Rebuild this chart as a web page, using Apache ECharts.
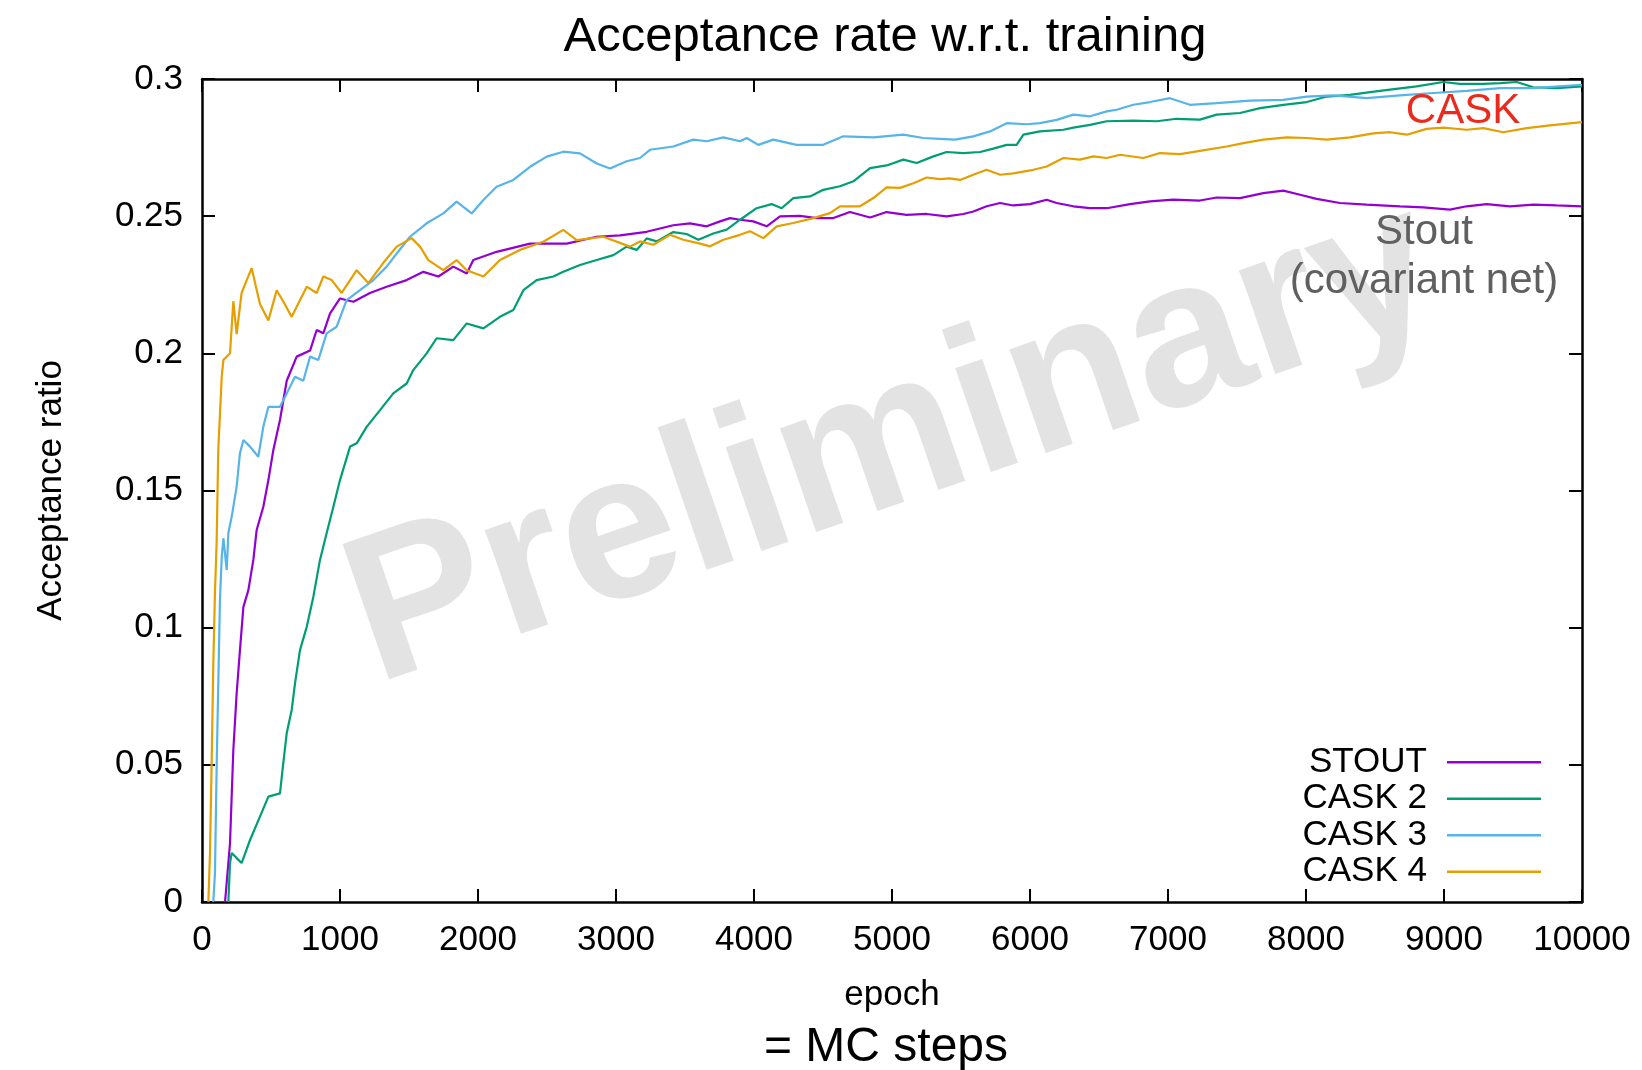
<!DOCTYPE html>
<html>
<head>
<meta charset="utf-8">
<script src="https://cdn.jsdelivr.net/npm/echarts@6/dist/echarts.min.js"></script>
<style>
  html, body { margin: 0; padding: 0; background: #fff; }
  #chart { width: 1642px; height: 1070px; }
</style>
</head>
<body>
<div id="chart"></div>
<script>
// [epoch, acceptance ratio]
const stoutData = [
  [167,0],[203,0.0215],[227,0.0554],[251,0.076],[275,0.0918],[300,0.1076],[336,0.1137],[372,0.1247],
  [396,0.1356],[444,0.144],[481,0.1538],[517,0.1648],[565,0.1757],[614,0.190],[686,0.1988],[783,0.201],
  [831,0.2085],[879,0.2073],[928,0.2146],[1000,0.220],[1097,0.2188],[1217,0.222],[1338,0.2243],[1483,0.2267],
  [1604,0.2297],[1713,0.228],[1821,0.2316],[1918,0.2291],[1966,0.234],[2135,0.237],[2377,0.240],[2643,0.240],
  [2860,0.2425],[3029,0.243],[3222,0.2443],[3415,0.2467],[3536,0.2474],[3657,0.2463],[3754,0.2481],[3826,0.2493],
  [3899,0.2487],[3995,0.2481],[4092,0.2463],[4188,0.2499],[4333,0.2501],[4454,0.2493],[4575,0.2493],[4695,0.2515],
  [4841,0.2495],[4961,0.2515],[5106,0.2505],[5251,0.2508],[5396,0.2499],[5517,0.2508],[5589,0.2517],[5686,0.2536],
  [5783,0.2548],[5879,0.2539],[6000,0.2544],[6121,0.256],[6193,0.2548],[6314,0.2536],[6435,0.2529],[6556,0.2529],
  [6725,0.2544],[6870,0.2554],[7038,0.256],[7231,0.2557],[7353,0.2568],[7522,0.2566],[7691,0.2584],[7836,0.2593],
  [7957,0.2578],[8077,0.2563],[8246,0.2548],[8440,0.2542],[8681,0.2536],[8850,0.2532],[9043,0.2524],[9164,0.2536],
  [9309,0.2544],[9478,0.2536],[9647,0.2542],[9816,0.2539],[10000,0.2536]
];
const cask2Data = [
  [191,0],[203,0.0142],[215,0.0179],[251,0.016],[287,0.0142],[348,0.0226],[420,0.0311],[481,0.0384],
  [565,0.0396],[589,0.0506],[614,0.0616],[650,0.070],[674,0.0797],[710,0.0918],[759,0.1003],[807,0.1113],
  [855,0.1247],[903,0.1344],[952,0.1441],[1000,0.1538],[1073,0.166],[1121,0.1672],[1193,0.1732],[1290,0.1793],
  [1386,0.1854],[1483,0.189],[1531,0.1939],[1628,0.200],[1700,0.2055],[1821,0.2048],[1918,0.2109],[2039,0.2091],
  [2159,0.2133],[2256,0.2158],[2329,0.223],[2425,0.2267],[2546,0.228],[2618,0.2297],[2739,0.2322],[2860,0.234],
  [2981,0.2358],[3077,0.2389],[3150,0.2377],[3222,0.2419],[3295,0.2408],[3415,0.2442],[3512,0.2435],[3597,0.2414],
  [3705,0.2437],[3802,0.2451],[3899,0.2487],[4019,0.2529],[4128,0.2544],[4200,0.2529],[4285,0.2566],[4406,0.2572],
  [4502,0.2596],[4623,0.2609],[4720,0.2627],[4841,0.2675],[4961,0.2685],[5082,0.2706],[5179,0.2694],[5300,0.2718],
  [5396,0.2734],[5517,0.273],[5638,0.2734],[5734,0.2746],[5831,0.276],[5903,0.276],[5952,0.2797],[6072,0.2809],
  [6242,0.2815],[6314,0.2823],[6435,0.2833],[6556,0.2846],[6749,0.2848],[6918,0.2846],[7062,0.2855],[7231,0.2852],
  [7353,0.287],[7522,0.2876],[7667,0.2894],[7836,0.2906],[8005,0.2916],[8150,0.2936],[8319,0.2942],[8464,0.2952],
  [8609,0.2961],[8802,0.2973],[8995,0.2989],[9116,0.2982],[9285,0.2982],[9406,0.2985],[9527,0.2989],[9647,0.297],
  [9816,0.2967],[10000,0.2973]
];
const cask3Data = [
  [82,0],[94,0.0106],[106,0.049],[118,0.0798],[130,0.110],[143,0.1258],[155,0.1326],[179,0.121],
  [191,0.1345],[215,0.1404],[251,0.1514],[275,0.1636],[300,0.1684],[348,0.166],[408,0.1623],[444,0.1732],
  [481,0.1805],[565,0.1805],[614,0.1854],[674,0.1915],[734,0.190],[783,0.1988],[843,0.1976],[903,0.2073],
  [976,0.2097],[1048,0.2194],[1145,0.223],[1242,0.2267],[1338,0.2316],[1411,0.2364],[1507,0.2425],[1628,0.2474],
  [1749,0.251],[1845,0.2553],[1954,0.251],[2039,0.2559],[2135,0.2607],[2256,0.2632],[2377,0.268],[2498,0.2717],
  [2618,0.2735],[2739,0.2729],[2860,0.2692],[2957,0.2674],[3077,0.270],[3174,0.2712],[3246,0.2742],[3415,0.2754],
  [3560,0.2779],[3657,0.2773],[3778,0.2787],[3899,0.2773],[3947,0.2785],[4031,0.276],[4140,0.2779],[4309,0.276],
  [4502,0.276],[4647,0.2791],[4865,0.2787],[5082,0.2797],[5227,0.2785],[5348,0.2782],[5457,0.2779],[5589,0.2791],
  [5710,0.2809],[5831,0.2839],[5976,0.2835],[6072,0.2839],[6193,0.2851],[6314,0.287],[6435,0.2864],[6556,0.2882],
  [6628,0.2888],[6749,0.2906],[6870,0.2916],[7014,0.293],[7159,0.2906],[7353,0.2912],[7594,0.2921],[7836,0.2924],
  [8005,0.2936],[8198,0.294],[8440,0.293],[8681,0.294],[8923,0.2949],[9164,0.2957],[9406,0.2967],[9647,0.2967],
  [10000,0.2979]
];
const cask4Data = [
  [46,0],[58,0.018],[70,0.051],[82,0.087],[94,0.113],[106,0.131],[118,0.165],[143,0.1915],
  [155,0.1976],[203,0.200],[227,0.219],[251,0.207],[287,0.222],[324,0.2267],[360,0.231],[420,0.218],
  [481,0.212],[541,0.223],[588,0.219],[650,0.2133],[759,0.2243],[831,0.222],[879,0.228],[940,0.2267],
  [1012,0.222],[1121,0.2303],[1205,0.2256],[1314,0.233],[1411,0.2389],[1519,0.242],[1580,0.2389],[1640,0.234],
  [1749,0.2303],[1845,0.234],[1918,0.2303],[2039,0.228],[2159,0.234],[2304,0.2377],[2473,0.2407],[2618,0.245],
  [2715,0.2413],[2908,0.2425],[3101,0.2389],[3174,0.2408],[3271,0.2396],[3391,0.2432],[3488,0.2414],[3609,0.240],
  [3681,0.239],[3778,0.2414],[3899,0.2432],[3971,0.2445],[4068,0.242],[4164,0.2463],[4285,0.2475],[4430,0.2493],
  [4550,0.2511],[4623,0.2536],[4768,0.2536],[4865,0.2566],[4961,0.2605],[5058,0.2603],[5155,0.262],[5251,0.2641],
  [5348,0.2635],[5420,0.2638],[5493,0.2632],[5589,0.2651],[5686,0.2669],[5783,0.2651],[5879,0.2656],[6024,0.2669],
  [6121,0.2681],[6242,0.2712],[6362,0.2706],[6459,0.2718],[6556,0.2712],[6652,0.2724],[6821,0.2712],[6942,0.273],
  [7087,0.2726],[7231,0.2738],[7425,0.2754],[7546,0.2766],[7691,0.2779],[7860,0.2787],[8005,0.2785],[8150,0.2779],
  [8319,0.2787],[8488,0.2802],[8609,0.2806],[8730,0.2797],[8874,0.2818],[8995,0.2823],[9164,0.2815],[9285,0.2821],
  [9430,0.2806],[9599,0.2821],[9768,0.2831],[10000,0.2843]
];

const seriesNames = ['STOUT', 'CASK 2', 'CASK 3', 'CASK 4'];
const seriesColors = ['#9400d3', '#009e73', '#56b4e9', '#e69f00'];
const seriesData = [stoutData, cask2Data, cask3Data, cask4Data];

const font = "'Liberation Sans', Arial, Helvetica, sans-serif";

// gnuplot style frame: axis lines on all four sides, ticks pointing inward
const frameAxis = {
  min: 0,
  axisLine: { show: true, onZero: false, lineStyle: { color: '#000', width: 2.5 } },
  axisTick: { show: true, inside: true, length: 13, lineStyle: { color: '#000', width: 2 } },
  splitLine: { show: false }
};

const chart = echarts.init(document.getElementById('chart'));
chart.setOption({
  animation: false,
  backgroundColor: '#fff',
  textStyle: { fontFamily: font },
  grid: { left: 202, right: 60, top: 79, bottom: 168 },
  xAxis: [
    Object.assign({}, frameAxis, {
      type: 'value', position: 'bottom', max: 10000, interval: 1000,
      axisLabel: { color: '#000', fontSize: 35, margin: 21, fontFamily: font, formatter: v => String(v) },
      name: 'epoch', nameLocation: 'middle', nameGap: 76,
      nameTextStyle: { color: '#000', fontSize: 35, fontFamily: font }
    }),
    Object.assign({}, frameAxis, {
      type: 'value', position: 'top', max: 10000, interval: 1000,
      axisLabel: { show: false }
    })
  ],
  yAxis: [
    Object.assign({}, frameAxis, {
      type: 'value', position: 'left', max: 0.3, interval: 0.05,
      axisLabel: { color: '#000', fontSize: 35, margin: 19, fontFamily: font },
      name: 'Acceptance ratio', nameLocation: 'middle', nameGap: 133,
      nameTextStyle: { color: '#000', fontSize: 35, fontFamily: font }
    }),
    Object.assign({}, frameAxis, {
      type: 'value', position: 'right', max: 0.3, interval: 0.05,
      axisLabel: { show: false }
    })
  ],
  legend: {
    data: seriesNames,
    orient: 'vertical',
    align: 'right',
    right: 96,
    top: 739,
    icon: 'rect',
    itemWidth: 94,
    itemHeight: 2.5,
    itemGap: 0,
    textStyle: { color: '#000', fontSize: 35, lineHeight: 36.5, fontFamily: font, padding: [0, 15, 0, 0] }
  },
  graphic: [
    {
      type: 'text', x: 893, y: 445, rotation: 19 * Math.PI / 180, z: 0, silent: true,
      style: {
        text: 'Preliminary', fill: '#e3e3e3', font: "bold 208px 'Liberation Sans', Arial, sans-serif",
        textAlign: 'center', textVerticalAlign: 'middle'
      }
    },
    {
      type: 'text', x: 885, y: 37, z: 10,
      style: {
        text: 'Acceptance rate w.r.t. training', fill: '#000', font: "49px 'Liberation Sans', Arial, sans-serif",
        textAlign: 'center', textVerticalAlign: 'middle'
      }
    },
    {
      type: 'text', x: 886, y: 1048, z: 10,
      style: {
        text: '= MC steps', fill: '#000', font: "48px 'Liberation Sans', Arial, sans-serif",
        textAlign: 'center', textVerticalAlign: 'middle'
      }
    },
    {
      type: 'text', x: 1463, y: 111, z: 10,
      style: {
        text: 'CASK', fill: '#ea2a1c', font: "42px 'Liberation Sans', Arial, sans-serif",
        textAlign: 'center', textVerticalAlign: 'middle'
      }
    },
    {
      type: 'text', x: 1424, y: 232, z: 10,
      style: {
        text: 'Stout', fill: '#606060', font: "42px 'Liberation Sans', Arial, sans-serif",
        textAlign: 'center', textVerticalAlign: 'middle'
      }
    },
    {
      type: 'text', x: 1424, y: 281, z: 10,
      style: {
        text: '(covariant net)', fill: '#606060', font: "42px 'Liberation Sans', Arial, sans-serif",
        textAlign: 'center', textVerticalAlign: 'middle'
      }
    }
  ],
  series: seriesNames.map((name, i) => ({
    name: name,
    type: 'line',
    xAxisIndex: 0,
    yAxisIndex: 0,
    data: seriesData[i],
    showSymbol: false,
    symbol: 'none',
    clip: true,
    color: seriesColors[i],
    lineStyle: { color: seriesColors[i], width: 2.2 },
    z: 3
  }))
});
</script>
</body>
</html>
